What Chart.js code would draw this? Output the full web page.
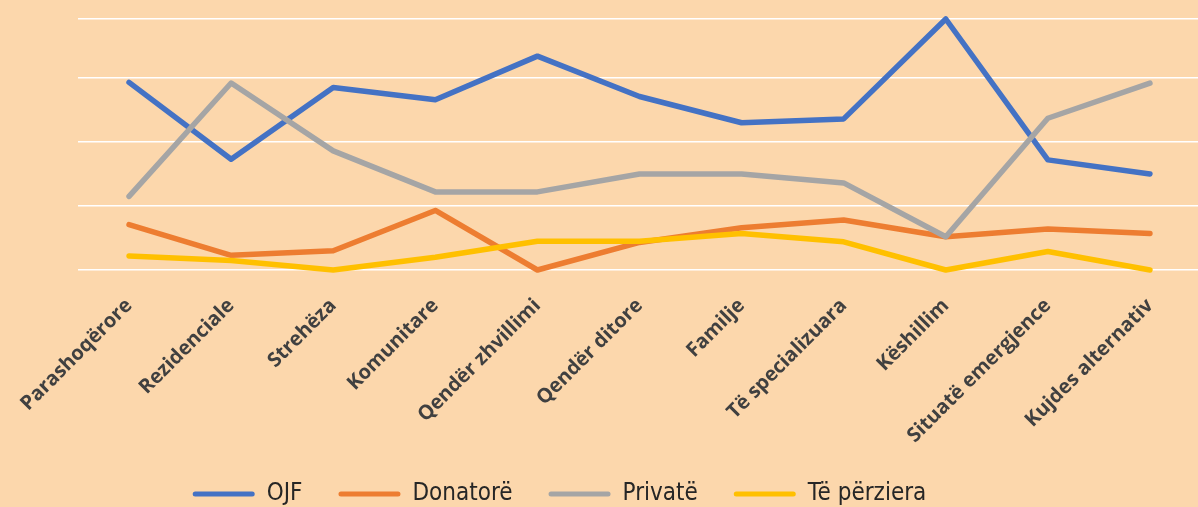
<!DOCTYPE html>
<html>
<head>
<meta charset="utf-8">
<script src="https://cdn.jsdelivr.net/npm/chart.js@4/dist/chart.umd.min.js"></script>
<style>
  html, body { margin: 0; padding: 0; background: #FCD7AC; overflow: hidden; }
  #wrap { position: relative; width: 1201px; height: 507px; }
</style>
</head>
<body>
<div id="wrap"><canvas id="c"></canvas></div>
<script>
const categories = ["Parashoqërore", "Rezidenciale", "Strehëza", "Komunitare", "Qendër zhvillimi",
  "Qendër ditore", "Familje", "Të specializuara", "Këshillim", "Situatë emergjence", "Kujdes alternativ"];
const seriesNames = ["OJF", "Donatorë", "Privatë", "Të përziera"];
const ojf      = [29.3, 17.3, 28.5, 26.6, 33.4, 27.1, 23.0, 23.6, 39.2, 17.2, 15.0];
const donatore = [7.1, 2.3, 3.0, 9.3, 0.0, 4.3, 6.6, 7.8, 5.2, 6.4, 5.7];
const privat   = [11.5, 29.2, 18.6, 12.2, 12.2, 15.0, 15.0, 13.6, 5.2, 23.7, 29.2];
const perziera = [2.2, 1.5, 0.0, 2.0, 4.5, 4.5, 5.7, 4.4, 0.0, 2.9, 0.0];
const yTicks = [0, 10, 20, 30, 39.2];
const colors = ["#4472C4", "#ED7D31", "#A5A5A5", "#FFC000"];

const seriesData = [ojf, donatore, privat, perziera];
const datasets = seriesData.map((d, i) => ({
  label: seriesNames[i],
  data: d,
  borderColor: colors[i],
  backgroundColor: colors[i],
  borderWidth: 5.5,
  borderCapStyle: 'round',
  borderJoinStyle: 'round',
  pointRadius: 0,
  tension: 0,
  clip: false,
  order: seriesData.length - i
}));

const layoutTweak = {
  id: 'layoutTweak',
  afterLayout(chart) {
    const l = chart.legend;
    if (l) {
      l.left -= 41; l.right -= 41;
      l.top += 9; l.bottom += 9;
    }
    if (chart.scales.x) chart.scales.x.bottom = chart.height;
  }
};

new Chart(document.getElementById('c'), {
  type: 'line',
  data: { labels: categories, datasets },
  plugins: [layoutTweak],
  options: {
    responsive: true,
    maintainAspectRatio: false,
    animation: false,
    devicePixelRatio: 1,
    layout: { padding: { top: 19, left: 0, right: 0, bottom: 0 } },
    plugins: {
      tooltip: { enabled: false },
      legend: {
        position: 'bottom',
        labels: {
          generateLabels(chart) {
            const items = Chart.defaults.plugins.legend.labels.generateLabels(chart);
            return items.map(it => Object.assign({}, it, { lineWidth: 0, borderRadius: 2.5 }));
          },
          sort: (a, b) => a.datasetIndex - b.datasetIndex,
          useBorderRadius: true,
          boxWidth: 62,
          boxHeight: 5,
          padding: 36,
          color: '#262626',
          font: { family: "'DejaVu Sans Condensed', 'DejaVu Sans'", size: 24 }
        }
      }
    },
    scales: {
      x: {
        type: 'category',
        offset: true,
        grid: { display: false },
        border: { display: false },
        ticks: {
          autoSkip: false,
          minRotation: 45,
          maxRotation: 45,
          color: '#404040',
          padding: 16,
          font: { family: "'Open Sans'", weight: 'bold', size: 20 }
        },
        afterFit(s) { s.height = 167; }
      },
      y: {
        min: 0,
        max: yTicks[yTicks.length - 1],
        afterBuildTicks(s) { s.ticks = yTicks.map(v => ({ value: v })); },
        ticks: { display: false },
        border: { display: false },
        grid: { color: '#FFFFFF', lineWidth: 1.5, drawTicks: false },
        afterFit(s) { s.width = 78; }
      }
    }
  }
});
</script>
</body>
</html>
